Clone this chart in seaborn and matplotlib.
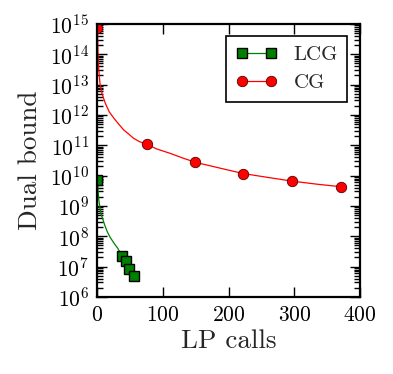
import numpy as np
import pandas as pd
import seaborn as sns
import matplotlib
matplotlib.use("Agg")
import matplotlib.pyplot as plt
from matplotlib.ticker import LogLocator, NullFormatter

# LCG (green squares)
lcg_calls = [0, 1, 2, 4, 6, 9, 11, 15, 19, 25, 31, 37, 43, 48, 55]
lcg_bound = [7.1e9, 3.2e9, 1.6e9, 8.0e8, 5.0e8, 3.2e8, 2.35e8, 1.4e8,
             9.5e7, 6.0e7, 4.0e7, 2.3e7, 1.48e7, 8.5e6, 5.0e6]
lcg_marks = [0, 11, 12, 13, 14]

# CG (red circles)
cg_calls = [0, 1, 2, 4, 7, 12, 18, 25, 33, 40, 48, 55, 64, 75, 90, 111,
            130, 149, 185, 222, 260, 296, 335, 371]
cg_bound = [7.4e14, 8.0e13, 3.2e13, 1.0e13, 5.0e12, 2.4e12, 1.26e12,
            7.8e11, 4.8e11, 3.2e11, 2.3e11, 1.7e11, 1.32e11, 1.07e11,
            7.6e10, 5.4e10, 3.8e10, 2.75e10, 1.8e10, 1.17e10, 8.7e9,
            6.6e9, 5.2e9, 4.3e9]
cg_marks = [0, 13, 17, 19, 21, 23]

sns.set_style("ticks")
plt.rcParams["font.family"] = ["cmr10", "DejaVu Serif"]
plt.rcParams["mathtext.fontset"] = "cm"
plt.rcParams["axes.formatter.use_mathtext"] = True

fig = plt.figure(figsize=(3.93, 3.74), dpi=100)
ax = fig.add_axes([0.248, 0.206, 0.668, 0.730])

sns.lineplot(x=lcg_calls, y=lcg_bound, ax=ax, color="g", lw=0.9,
             marker="s", markersize=7, markeredgecolor="k",
             markeredgewidth=1.0, markevery=lcg_marks, label="LCG",
             sort=False)
sns.lineplot(x=cg_calls, y=cg_bound, ax=ax, color="r", lw=0.9,
             marker="o", markersize=7.5, markeredgecolor="#550000",
             markeredgewidth=0.6, markevery=cg_marks, label="CG",
             sort=False)

ax.set_yscale("log")
ax.set_xlim(0, 400)
ax.set_ylim(1e6, 1e15)
ax.set_xticks([0, 100, 200, 300, 400])
ax.yaxis.set_major_locator(LogLocator(base=10, numticks=20))
ax.yaxis.set_minor_locator(LogLocator(base=10, subs=np.arange(2, 10), numticks=20))
ax.yaxis.set_minor_formatter(NullFormatter())

ax.set_xlabel("LP calls", fontsize=19.5, labelpad=3)
ax.set_ylabel("Dual bound", fontsize=19.5, labelpad=6)

ax.tick_params(which="both", direction="in", top=True, right=True,
               labelsize=15.5, colors="k", pad=6)
ax.tick_params(which="major", length=7, width=1.0)
ax.tick_params(which="minor", length=4, width=1.0)
for s in ax.spines.values():
    s.set_linewidth(1.6)
    s.set_color("k")

leg = ax.legend(loc="upper right", numpoints=2, fontsize=15,
                fancybox=False, framealpha=1, edgecolor="k",
                handlelength=2.0, borderpad=0.45, labelspacing=0.45,
                handletextpad=0.8, borderaxespad=0.6)
leg.get_frame().set_linewidth(1.2)

fig.savefig("out.png", dpi=100)
